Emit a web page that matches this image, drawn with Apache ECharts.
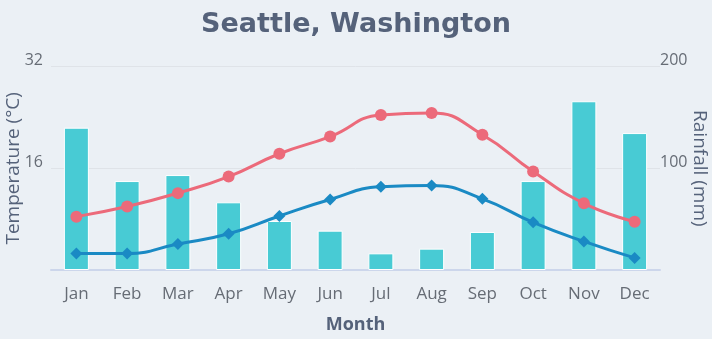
<!DOCTYPE html>
<html>
<head>
<meta charset="utf-8">
<script src="https://cdn.jsdelivr.net/npm/echarts@6/dist/echarts.min.js"></script>
<style>
html,body{margin:0;padding:0;background:#ebf0f5;}
#c{width:712px;height:339px;}
</style>
</head>
<body>
<div id="c"></div>
<script>
const months = ['Jan','Feb','Mar','Apr','May','Jun','Jul','Aug','Sep','Oct','Nov','Dec'];
const rainfall = [140, 87.5, 93.4, 66.6, 48.2, 38.7, 16.4, 21, 37.4, 87.5, 166, 134.7];
const maxTemp = [8.4, 10.0, 12.1, 14.7, 18.3, 21.0, 24.4, 24.7, 21.3, 15.5, 10.5, 7.6];
const minTemp = [2.6, 2.6, 4.1, 5.7, 8.5, 11.1, 13.1, 13.3, 11.2, 7.5, 4.5, 1.9];
const tempTicks = [0, 16, 32];
const rainTicks = [0, 100, 200];

const chart = echarts.init(document.getElementById('c'), null, {renderer:'canvas'});
const labelColor = '#666c75';
chart.setOption({
  backgroundColor: '#ebf0f5',
  animation: false,
  title: {
    text: 'Seattle, Washington',
    left: 'center', top: 6,
    textStyle: {fontFamily: 'DejaVu Sans', fontWeight: 'bold', fontSize: 27, color: '#55627a'}
  },
  grid: {left: 51, right: 52, top: 66.7, bottom: 69, containLabel: false, outerBoundsMode: 'none'},
  xAxis: {
    type: 'category', data: months,
    name: 'Month', nameLocation: 'middle', nameGap: 46, nameMoveOverlap: false,
    nameTextStyle: {fontFamily: 'Open Sans', fontWeight: 'bold', fontSize: 18, color: '#55627a'},
    axisLine: {lineStyle: {color: '#ccd6eb', width: 2}},
    axisTick: {show: false},
    axisLabel: {fontFamily: 'Open Sans', fontSize: 17, color: labelColor, margin: 16}
  },
  yAxis: [{
    type: 'value', min: tempTicks[0], max: tempTicks[2], interval: 16,
    name: 'Temperature (°C)', nameLocation: 'middle', nameGap: 28, nameRotate: 90, nameMoveOverlap: false,
    nameTextStyle: {fontFamily: 'Open Sans', fontSize: 19, color: '#55627a'},
    axisLine: {show: false}, axisTick: {show: false},
    axisLabel: {fontFamily: 'Open Sans', fontSize: 16, color: labelColor, margin: 8, lineHeight: 12,
      formatter: v => v === 0 ? '' : v, verticalAlign: 'bottom'},
    splitLine: {lineStyle: {color: '#dfe3e8', width: 1}}
  },{
    type: 'value', min: rainTicks[0], max: rainTicks[2], interval: 100,
    name: 'Rainfall (mm)', nameLocation: 'middle', nameGap: 30, nameRotate: -90, nameMoveOverlap: false,
    nameTextStyle: {fontFamily: 'Open Sans', fontSize: 19, color: '#55627a'},
    axisLine: {show: false}, axisTick: {show: false},
    axisLabel: {fontFamily: 'Open Sans', fontSize: 16, color: labelColor, margin: 0, lineHeight: 12,
      formatter: v => v === 0 ? '' : v, verticalAlign: 'bottom'},
    splitLine: {show: false}
  }],
  series: [{
    type: 'bar', yAxisIndex: 1, data: rainfall, barWidth: 25,
    itemStyle: {color: '#48cbd4', borderColor: '#ffffff', borderWidth: 1}
  },{
    type: 'line', yAxisIndex: 0, data: maxTemp, smooth: true,
    symbol: 'circle', symbolSize: 12,
    lineStyle: {color: '#ec6a7a', width: 3}, itemStyle: {color: '#ec6a7a'}
  },{
    type: 'line', yAxisIndex: 0, data: minTemp, smooth: true,
    symbol: 'diamond', symbolSize: 12,
    lineStyle: {color: '#1a8ac4', width: 3}, itemStyle: {color: '#1a8ac4'}
  }]
});
</script>
</body>
</html>
